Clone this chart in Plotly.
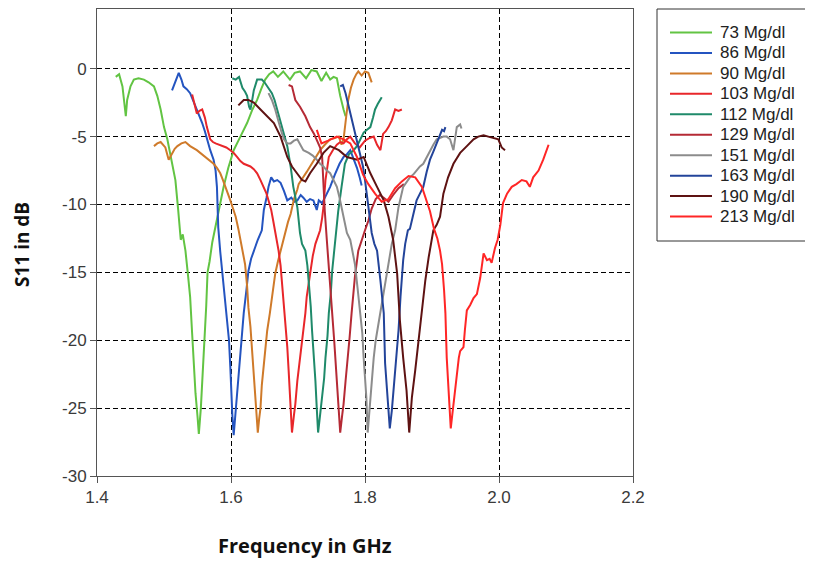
import plotly.graph_objects as go

labels = ["73 Mg/dl", "86 Mg/dl", "90 Mg/dl", "103 Mg/dl", "112 Mg/dl",
          "129 Mg/dl", "151 Mg/dl", "163 Mg/dl", "190 Mg/dl", "213 Mg/dl"]
colors = ["#62c443", "#2454c0", "#cf7a2a", "#e8262a", "#1f8a6a",
          "#b52a35", "#8c8c8c", "#23449a", "#5e1212", "#ff2626"]

f73 = [1.428,1.433,1.438,1.440,1.443,1.445,1.450,1.455,1.462,1.470,1.477,1.485,1.490,1.495,1.500,1.505,1.511,1.517,1.521,1.525,1.528,1.532,1.536,1.539,1.542,1.544,1.547,1.550,1.552,1.555,1.558,1.561,1.563,1.565,1.568,1.572,1.577,1.583,1.589,1.596,1.604,1.614,1.624,1.632,1.639,1.645,1.651,1.657,1.663,1.670,1.678,1.688,1.695,1.703,1.712,1.720,1.728,1.735,1.742,1.748,1.753,1.758,1.763,1.768,1.771]
s73 = [-0.6,-0.4,-1.3,-2.3,-3.5,-2.3,-1.3,-0.8,-0.7,-0.8,-1.0,-1.3,-2.0,-3.0,-4.3,-5.2,-6.8,-8.2,-10.3,-12.6,-12.2,-13.4,-15.3,-16.8,-19.5,-21.7,-23.9,-25.6,-26.9,-25.0,-22.5,-20.0,-17.5,-15.0,-14.2,-12.8,-11.6,-10.0,-8.7,-7.3,-6.0,-5.0,-4.0,-3.0,-2.3,-1.5,-0.8,-0.4,-0.2,-0.6,-0.2,-0.8,-0.3,-0.2,-0.7,-0.1,-0.2,-0.9,-0.3,-0.8,-0.6,-0.7,-2.0,-3.0,-3.5]

f86 = [1.512,1.517,1.522,1.526,1.529,1.534,1.539,1.544,1.549,1.553,1.557,1.561,1.564,1.569,1.574,1.577,1.579,1.581,1.584,1.587,1.590,1.592,1.595,1.597,1.599,1.600,1.602,1.604,1.606,1.609,1.612,1.614,1.617,1.619,1.623,1.626,1.630,1.634,1.640,1.646,1.649,1.653,1.656,1.660,1.664,1.669,1.674,1.679,1.684,1.690,1.695,1.699,1.704,1.708,1.713,1.718,1.723,1.728,1.731,1.736,1.742,1.748,1.755,1.762,1.768,1.773,1.778,1.783,1.788,1.792,1.795]
s86 = [-1.6,-0.9,-0.3,-0.8,-1.3,-1.5,-1.8,-2.4,-3.0,-3.4,-4.0,-4.6,-5.2,-6.0,-6.7,-7.5,-8.7,-11.7,-13.5,-15.1,-16.2,-17.3,-18.8,-20.0,-22.0,-23.7,-25.5,-27.0,-25.8,-24.2,-22.5,-21.3,-19.5,-18.0,-16.3,-14.9,-14.0,-13.4,-12.6,-11.9,-10.4,-9.5,-8.7,-8.0,-8.3,-8.2,-8.4,-9.0,-9.7,-9.5,-9.8,-9.7,-9.3,-9.5,-9.8,-9.6,-9.7,-10.4,-9.7,-9.9,-9.3,-8.7,-7.8,-7.0,-6.5,-6.3,-6.0,-6.6,-7.3,-8.0,-8.6]

f90 = [1.485,1.490,1.495,1.502,1.507,1.512,1.516,1.520,1.526,1.532,1.539,1.549,1.556,1.562,1.568,1.574,1.579,1.584,1.588,1.592,1.599,1.603,1.607,1.611,1.614,1.617,1.621,1.624,1.626,1.629,1.631,1.634,1.636,1.638,1.640,1.642,1.644,1.646,1.649,1.652,1.654,1.658,1.661,1.666,1.670,1.674,1.681,1.685,1.689,1.694,1.699,1.701,1.705,1.708,1.713,1.718,1.725,1.733,1.740,1.748,1.755,1.761,1.765,1.768,1.772,1.775,1.779,1.783,1.787,1.790,1.795,1.800,1.805,1.808,1.810]
s90 = [-5.7,-5.5,-5.4,-5.8,-6.7,-6.2,-5.9,-5.7,-5.5,-5.4,-5.7,-6.0,-6.3,-6.5,-6.8,-7.0,-7.3,-7.7,-8.2,-8.7,-9.7,-10.3,-10.9,-11.8,-12.6,-13.2,-14.4,-16.0,-17.6,-19.0,-20.5,-22.0,-23.5,-25.2,-26.8,-25.8,-25.0,-23.3,-21.7,-20.5,-19.3,-18.0,-16.8,-15.1,-14.2,-13.4,-11.9,-11.3,-10.7,-9.6,-8.9,-8.5,-8.2,-8.0,-7.6,-7.2,-6.6,-6.0,-5.6,-5.2,-5.1,-5.0,-5.6,-5.2,-3.5,-2.3,-1.4,-0.8,-0.4,-0.2,-0.5,-0.2,-0.3,-0.7,-1.0]

f103 = [1.542,1.545,1.549,1.553,1.557,1.561,1.564,1.569,1.573,1.577,1.582,1.587,1.593,1.599,1.604,1.609,1.614,1.619,1.624,1.629,1.634,1.639,1.644,1.649,1.653,1.656,1.660,1.663,1.666,1.669,1.671,1.674,1.676,1.679,1.681,1.684,1.686,1.689,1.691,1.694,1.696,1.699,1.701,1.705,1.708,1.711,1.713,1.716,1.718,1.722,1.726,1.730,1.733,1.736,1.738,1.741,1.746,1.752,1.758,1.763,1.768,1.773,1.778,1.785,1.792,1.800,1.807,1.813,1.818,1.823,1.827,1.831,1.835,1.840,1.845,1.850,1.855]
s103 = [-1.9,-2.6,-3.3,-3.1,-3.0,-3.6,-4.3,-5.2,-5.4,-5.5,-5.6,-5.7,-5.8,-6.0,-6.2,-6.5,-6.8,-7.0,-7.1,-7.2,-7.4,-7.7,-8.2,-8.7,-9.2,-9.7,-10.4,-11.2,-12.0,-12.6,-13.4,-14.5,-15.6,-17.2,-18.8,-20.5,-22.2,-24.7,-26.8,-25.5,-24.7,-23.0,-22.2,-20.5,-19.3,-18.0,-16.8,-15.8,-14.9,-13.8,-12.9,-12.3,-11.9,-11.0,-10.2,-8.2,-6.5,-6.0,-5.6,-5.4,-5.5,-5.2,-5.0,-5.5,-5.8,-5.3,-5.1,-5.0,-5.6,-6.0,-4.8,-4.6,-4.3,-3.8,-3.0,-3.1,-3.0]

f112 = [1.602,1.607,1.612,1.617,1.621,1.624,1.627,1.629,1.632,1.634,1.639,1.646,1.650,1.654,1.658,1.661,1.665,1.669,1.673,1.676,1.680,1.684,1.689,1.693,1.699,1.703,1.706,1.709,1.711,1.714,1.716,1.719,1.721,1.724,1.726,1.728,1.730,1.733,1.736,1.739,1.741,1.744,1.746,1.749,1.751,1.756,1.760,1.765,1.770,1.776,1.783,1.788,1.793,1.798,1.803,1.808,1.812,1.815,1.819,1.823,1.825]
s112 = [-0.7,-0.8,-0.6,-1.4,-1.7,-2.0,-2.8,-3.0,-2.2,-1.6,-0.8,-0.8,-1.0,-1.3,-1.5,-1.8,-2.3,-3.0,-3.6,-4.3,-5.0,-5.7,-7.2,-8.7,-10.2,-12.1,-12.9,-13.2,-13.4,-14.5,-15.6,-17.5,-19.3,-21.2,-23.0,-25.0,-26.8,-25.5,-24.2,-22.8,-21.3,-19.7,-18.0,-16.5,-14.9,-12.5,-10.5,-8.7,-7.0,-6.3,-6.0,-5.7,-5.2,-4.7,-4.5,-4.3,-3.6,-3.0,-2.6,-2.3,-2.1]

f129 = [1.686,1.691,1.696,1.703,1.711,1.718,1.724,1.728,1.733,1.736,1.738,1.740,1.743,1.746,1.749,1.751,1.754,1.756,1.758,1.760,1.763,1.766,1.768,1.771,1.773,1.777,1.780,1.783,1.785,1.790,1.795,1.800,1.805,1.810,1.816,1.822,1.828,1.835,1.842,1.850,1.858]
s129 = [-1.2,-1.3,-2.3,-2.8,-3.5,-4.3,-4.8,-5.2,-5.8,-6.5,-8.7,-10.5,-12.6,-14.9,-16.5,-18.0,-20.0,-21.7,-23.5,-25.0,-26.8,-25.5,-24.7,-23.0,-21.7,-19.8,-18.0,-16.5,-15.3,-13.4,-12.6,-11.9,-11.2,-10.3,-9.6,-9.3,-9.5,-9.8,-9.3,-8.8,-8.5]

f151 = [1.656,1.661,1.666,1.671,1.675,1.679,1.684,1.689,1.694,1.699,1.704,1.708,1.716,1.722,1.728,1.733,1.738,1.743,1.748,1.753,1.758,1.762,1.765,1.769,1.773,1.778,1.782,1.785,1.789,1.793,1.796,1.798,1.800,1.802,1.804,1.806,1.808,1.811,1.813,1.816,1.820,1.824,1.828,1.832,1.835,1.840,1.845,1.850,1.857,1.862,1.867,1.872,1.877,1.882,1.887,1.892,1.897,1.902,1.907,1.912,1.917,1.922,1.927,1.932,1.935,1.937,1.942,1.944]
s151 = [-1.8,-2.3,-3.0,-4.0,-4.6,-5.2,-5.5,-5.5,-5.3,-5.2,-5.6,-6.0,-6.2,-6.4,-6.7,-7.0,-7.2,-7.5,-7.7,-8.2,-8.7,-9.5,-10.2,-11.2,-12.1,-12.6,-13.5,-14.4,-16.2,-18.0,-19.5,-21.3,-22.8,-24.2,-26.8,-25.5,-24.2,-22.8,-21.3,-20.0,-18.8,-17.5,-16.3,-15.3,-14.4,-12.9,-11.9,-10.2,-8.7,-8.3,-8.0,-7.8,-7.5,-7.2,-7.0,-6.5,-6.0,-5.6,-5.2,-5.1,-5.0,-5.0,-5.2,-6.0,-5.0,-4.3,-4.1,-4.4]

f163 = [1.763,1.767,1.771,1.775,1.778,1.782,1.785,1.789,1.793,1.797,1.800,1.805,1.810,1.814,1.818,1.823,1.826,1.828,1.830,1.833,1.835,1.837,1.840,1.843,1.845,1.848,1.850,1.853,1.857,1.860,1.864,1.867,1.870,1.874,1.877,1.882,1.887,1.892,1.897,1.902,1.907,1.911,1.915,1.918,1.920]
s163 = [-1.3,-1.2,-1.8,-2.6,-3.3,-4.0,-4.7,-5.4,-6.2,-7.2,-8.2,-10.2,-12.1,-12.9,-13.4,-15.6,-17.0,-18.0,-21.7,-23.5,-25.2,-26.5,-25.2,-23.5,-22.2,-20.5,-19.3,-16.8,-14.1,-12.9,-11.9,-11.8,-11.2,-10.3,-9.7,-9.2,-8.7,-7.6,-6.7,-6.1,-5.5,-5.0,-4.5,-4.6,-4.3]

f190 = [1.611,1.619,1.626,1.634,1.644,1.654,1.664,1.674,1.684,1.691,1.699,1.706,1.711,1.718,1.728,1.738,1.748,1.761,1.773,1.788,1.798,1.808,1.818,1.828,1.835,1.842,1.848,1.852,1.857,1.862,1.866,1.870,1.875,1.880,1.885,1.890,1.895,1.902,1.907,1.912,1.917,1.924,1.932,1.942,1.952,1.962,1.969,1.977,1.984,1.992,1.999,2.004,2.009]
s190 = [-2.7,-2.3,-2.3,-2.5,-3.0,-3.5,-4.0,-5.0,-6.5,-7.2,-7.7,-8.2,-8.3,-7.7,-7.0,-6.2,-5.7,-6.0,-6.5,-6.7,-6.5,-7.7,-8.7,-9.7,-10.9,-12.6,-15.1,-18.5,-21.3,-23.7,-26.8,-24.2,-22.2,-20.0,-18.0,-15.6,-13.9,-11.9,-11.5,-10.9,-9.2,-8.0,-7.0,-6.2,-5.7,-5.2,-5.0,-4.9,-5.0,-5.1,-5.2,-5.8,-6.0]

f213 = [1.728,1.735,1.745,1.758,1.768,1.778,1.788,1.797,1.805,1.815,1.825,1.835,1.845,1.855,1.865,1.875,1.885,1.892,1.897,1.903,1.908,1.912,1.915,1.918,1.920,1.922,1.924,1.926,1.928,1.930,1.932,1.935,1.937,1.940,1.942,1.945,1.947,1.949,1.952,1.957,1.962,1.967,1.972,1.977,1.982,1.986,1.989,1.994,1.998,2.002,2.006,2.012,2.019,2.026,2.034,2.041,2.046,2.051,2.059,2.066,2.074]
s213 = [-4.5,-5.5,-5.3,-5.0,-5.2,-5.5,-6.5,-7.8,-8.5,-9.2,-9.8,-9.6,-8.8,-8.3,-7.9,-8.0,-8.7,-9.7,-10.5,-11.8,-12.5,-13.4,-14.4,-16.3,-18.0,-21.3,-22.8,-24.2,-26.5,-25.6,-24.7,-23.2,-22.2,-21.3,-20.8,-20.6,-20.5,-19.3,-17.8,-17.4,-16.9,-16.6,-15.4,-13.6,-14.1,-14.0,-14.3,-13.2,-12.6,-11.5,-9.9,-9.2,-8.7,-8.5,-8.2,-8.3,-8.7,-8.0,-7.5,-6.7,-5.6]

freqs = [f73, f86, f90, f103, f112, f129, f151, f163, f190, f213]
s11s = [s73, s86, s90, s103, s112, s129, s151, s163, s190, s213]

x_ticks = [1.4, 1.6, 1.8, 2.0, 2.2]
x_ticktext = ["1.4", "1.6", "1.8", "2.0", "2.2"]
y_ticks = [0, -5, -10, -15, -20, -25, -30]
y_ticktext = ["0", "-5", "-10", "-15", "-20", "-25", "-30"]

# The page body adds an 8px offset; size the figure so it fits the 813x561 window.
OFF = 8
W, H = 813 - OFF, 561 - OFF
# plot area in window pixels: x 97..633, y 9..476
ML, MR, MT, MB = 97 - OFF, W - (633 - OFF), 9 - OFF, H - (476 - OFF)
PW, PH = W - ML - MR, H - MT - MB


def px_to_paper_x(sx):
    return (sx - OFF - ML) / PW


def px_to_paper_y(sy):
    return (H - MB - (sy - OFF)) / PH


fig = go.Figure()
for f, s, name, c in zip(freqs, s11s, labels, colors):
    fig.add_trace(go.Scatter(x=f, y=s, mode="lines", name=name,
                             line=dict(color=c, width=2)))

axis_common = dict(
    showgrid=True, gridcolor="#000000", gridwidth=1, griddash="5px,3px",
    showline=True, linecolor="#555555", linewidth=1, mirror=True,
    ticks="outside", ticklen=6, tickcolor="#555555",
    tickfont=dict(family="Liberation Sans, Arial", size=17, color="#3a3a3a"),
    zeroline=False, automargin=False,
)

# Legend drawn as a framed box with line samples and text labels
shapes = [dict(type="rect", xref="paper", yref="paper",
               x0=px_to_paper_x(657), x1=px_to_paper_x(811.5),
               y0=px_to_paper_y(241), y1=px_to_paper_y(9),
               line=dict(color="#333333", width=1))]
annotations = []
row0, row_gap = 32.5, 20.45
for i, (name, c) in enumerate(zip(labels, colors)):
    ry = px_to_paper_y(row0 + i * row_gap)
    shapes.append(dict(type="line", xref="paper", yref="paper",
                       x0=px_to_paper_x(670), x1=px_to_paper_x(712),
                       y0=ry, y1=ry, line=dict(color=c, width=2)))
    annotations.append(dict(text=name, xref="paper", yref="paper",
                            x=px_to_paper_x(718), y=ry, xanchor="left", yanchor="middle",
                            showarrow=False,
                            font=dict(family="Liberation Sans, Arial", size=17, color="#222222")))

annotations += [
    dict(text="<b>Frequency in GHz</b>", xref="paper", yref="paper",
         x=px_to_paper_x(305), y=px_to_paper_y(545), xanchor="center", yanchor="middle",
         showarrow=False,
         font=dict(family="Open Sans", size=20, color="#111111")),
    dict(text="<b>S11 in dB</b>", xref="paper", yref="paper",
         x=px_to_paper_x(22), y=px_to_paper_y(245), xanchor="center", yanchor="middle",
         showarrow=False, textangle=-90,
         font=dict(family="Open Sans", size=19, color="#111111")),
]

fig.update_layout(
    width=W, height=H,
    margin=dict(l=ML, r=MR, t=MT, b=MB),
    paper_bgcolor="white", plot_bgcolor="white",
    xaxis=dict(range=[1.4, 2.2], tickvals=x_ticks, ticktext=x_ticktext, **axis_common),
    yaxis=dict(range=[-30, 4.4], tickvals=y_ticks, ticktext=y_ticktext, **axis_common),
    showlegend=False,
    shapes=shapes,
    annotations=annotations,
)

fig.write_html("out.html")
